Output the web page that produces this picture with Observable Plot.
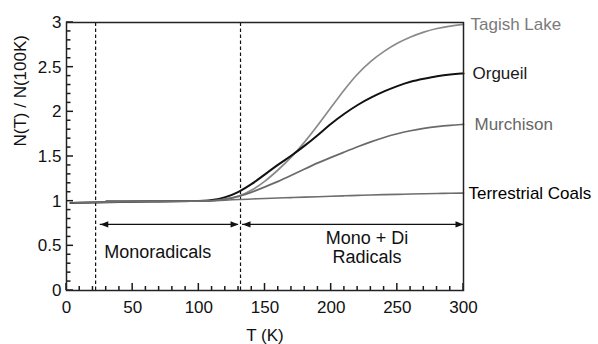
<!DOCTYPE html>
<html><head><meta charset="utf-8">
<script src="https://cdn.jsdelivr.net/npm/d3@7"></script>
<script src="https://cdn.jsdelivr.net/npm/@observablehq/plot@0.6"></script>
<style>body{margin:0;background:#fff;} svg{font-family:"Liberation Sans",Arial,sans-serif;}</style>
</head><body><div id="chart"></div>
<script>
// Temperatures (K)
const tFull = [3, 30, 60, 100, 110, 120, 130, 140, 150, 160, 170, 180, 190, 200, 210, 220, 230, 240, 250, 260, 270, 280, 290, 300];
const tLate = [30, 60, 100, 110, 120, 130, 140, 150, 160, 170, 180, 190, 200, 210, 220, 230, 240, 250, 260, 270, 280, 290, 300];
// N(T)/N(100K)
const orgueil     = [0.98, 0.99, 0.995, 1.0, 1.01, 1.04, 1.10, 1.19, 1.30, 1.41, 1.51, 1.62, 1.74, 1.87, 1.98, 2.08, 2.16, 2.23, 2.29, 2.34, 2.37, 2.40, 2.42, 2.43];
const terrestrial = [0.98, 0.99, 0.995, 1.0, 1.005, 1.01, 1.02, 1.025, 1.03, 1.035, 1.04, 1.045, 1.05, 1.055, 1.06, 1.065, 1.07, 1.073, 1.076, 1.08, 1.083, 1.086, 1.088, 1.09];
const tagish      = [1.0, 1.0, 1.0, 1.005, 1.02, 1.05, 1.12, 1.22, 1.35, 1.49, 1.66, 1.85, 2.05, 2.25, 2.43, 2.57, 2.68, 2.77, 2.84, 2.895, 2.935, 2.96, 2.98];
const murchison   = [1.0, 1.0, 1.0, 1.005, 1.02, 1.05, 1.10, 1.16, 1.22, 1.29, 1.36, 1.43, 1.49, 1.55, 1.61, 1.665, 1.715, 1.755, 1.79, 1.815, 1.835, 1.85, 1.86];

const seriesNames = ["Tagish Lake", "Orgueil", "Murchison", "Terrestrial Coals"];
const seriesColors = ["#8a8a8a", "#111111", "#6a6a6a", "#6e6e6e"];
const labelColors = ["#7a7a7a", "#1a1a1a", "#666666", "#000000"];
const seriesWidths = [1.7, 2, 1.7, 1.6];
const labelDx = [7, 9, 11, 5];

const xMajor = [0, 50, 100, 150, 200, 250, 300];
const xMinor = [10, 20, 30, 40, 60, 70, 80, 90, 110, 120, 130, 140, 160, 170, 180, 190, 210, 220, 230, 240, 260, 270, 280, 290];
const yMajor = [0, 0.5, 1, 1.5, 2, 2.5, 3];
const yMinor = [0.1, 0.2, 0.3, 0.4, 0.6, 0.7, 0.8, 0.9, 1.1, 1.2, 1.3, 1.4, 1.6, 1.7, 1.8, 1.9, 2.1, 2.2, 2.3, 2.4, 2.6, 2.7, 2.8, 2.9];

const dashedX = [22, 131.5];
const arrowY = 0.74;
const arrowSpans = [{x1: 25.5, x2: 130}, {x1: 133, x2: 300}];
const regionLabels = [{x: 69, y: 0.43, text: "Monoradicals"}, {x: 227, y: 0.48, text: "Mono + Di\nRadicals"}];

const xLabel = "T (K)";
const yLabel = "N(T) / N(100K)";

const tables = [
  tLate.map((t, i) => ({t, v: tagish[i]})),
  tFull.map((t, i) => ({t, v: orgueil[i]})),
  tLate.map((t, i) => ({t, v: murchison[i]})),
  tFull.map((t, i) => ({t, v: terrestrial[i]}))
];

const headRight = {draw(ctx) { ctx.moveTo(0, 0); ctx.lineTo(-8, -3.2); ctx.lineTo(-8, 3.2); ctx.closePath(); }};
const headLeft  = {draw(ctx) { ctx.moveTo(0, 0); ctx.lineTo(8, -3.2); ctx.lineTo(8, 3.2); ctx.closePath(); }};

const W = 598, H = 344, mL = 66, mR = 135, mT = 22, mB = 54;

// inward ticks drawn as short links offset in pixels from the axis line
const xTickData = xMajor.map(v => ({v, len: 7})).concat(xMinor.map(v => ({v, len: 4})));
const yTickData = yMajor.map(v => ({v, len: 7})).concat(yMinor.map(v => ({v, len: 4.5})));

function xTicksMark() {
  return Plot.dot(xTickData, {
    x: "v", y: () => 0,
    symbol: {draw(ctx, size) {}},
    render(index, scales, values, dimensions, context) {
      const g = d3.create("svg:g").attr("stroke", "#1a1a1a").attr("stroke-width", 1.5);
      const y0 = dimensions.height - dimensions.marginBottom;
      for (const i of index) {
        const x = scales.x(xTickData[i].v);
        g.append("line").attr("x1", x).attr("x2", x).attr("y1", y0).attr("y2", y0 - xTickData[i].len);
      }
      return g.node();
    }
  });
}
function yTicksMark() {
  return Plot.dot(yTickData, {
    x: () => 0, y: "v",
    render(index, scales, values, dimensions, context) {
      const g = d3.create("svg:g").attr("stroke", "#1a1a1a").attr("stroke-width", 1.5);
      const x0 = dimensions.marginLeft;
      for (const i of index) {
        const y = scales.y(yTickData[i].v);
        g.append("line").attr("x1", x0).attr("x2", x0 + yTickData[i].len).attr("y1", y).attr("y2", y);
      }
      return g.node();
    }
  });
}

const marks = [
  Plot.ruleX(dashedX, {x: d => d, y1: 0, y2: 3, stroke: "#111", strokeWidth: 1.2, strokeDasharray: "3.5,2.5"}),
  xTicksMark(),
  yTicksMark(),
  Plot.axisX(xMajor, {tickSize: 0, tickPadding: 10, fontSize: 17, fill: "#111", label: null}),
  Plot.axisY(yMajor, {tickSize: 0, tickPadding: 5, fontSize: 17, fill: "#111", label: null, tickFormat: d3.format("")}),
  Plot.text([xLabel], {text: d => d, frameAnchor: "bottom", dy: 45, lineAnchor: "middle", fontSize: 17, fill: "#111"}),
  Plot.text([yLabel], {text: d => d, frameAnchor: "left", rotate: -90, dx: -46, dy: -10, fontSize: 17, fill: "#111"}),
  Plot.ruleY(arrowSpans, {y: arrowY, x1: "x1", x2: "x2", stroke: "#111", strokeWidth: 1.4}),
  Plot.dot(arrowSpans, {x: "x1", y: arrowY, symbol: headLeft, fill: "#111", stroke: "none"}),
  Plot.dot(arrowSpans, {x: "x2", y: arrowY, symbol: headRight, fill: "#111", stroke: "none"}),
  Plot.text(regionLabels, {x: "x", y: "y", text: "text", fontSize: 18, lineHeight: 1.02, fill: "#111"})
];
tables.forEach((tbl, i) => {
  marks.push(Plot.line(tbl, {x: "t", y: "v", stroke: seriesColors[i], strokeWidth: seriesWidths[i], curve: "basis"}));
  marks.push(Plot.text([tbl[tbl.length - 1]], {x: "t", y: "v", text: () => seriesNames[i], textAnchor: "start", dx: labelDx[i], fontSize: 17, fill: labelColors[i]}));
});
marks.push(Plot.frame({stroke: "#222", strokeWidth: 1.5}));

const chart = Plot.plot({
  width: W,
  height: H,
  marginLeft: mL,
  marginRight: mR,
  marginTop: mT,
  marginBottom: mB,
  x: {domain: [0, 300], axis: null},
  y: {domain: [0, 3], axis: null},
  style: {fontFamily: "'Liberation Sans', Arial, sans-serif", background: "#fff", overflow: "visible"},
  marks
});
document.getElementById("chart").appendChild(chart);
</script>
</body></html>
